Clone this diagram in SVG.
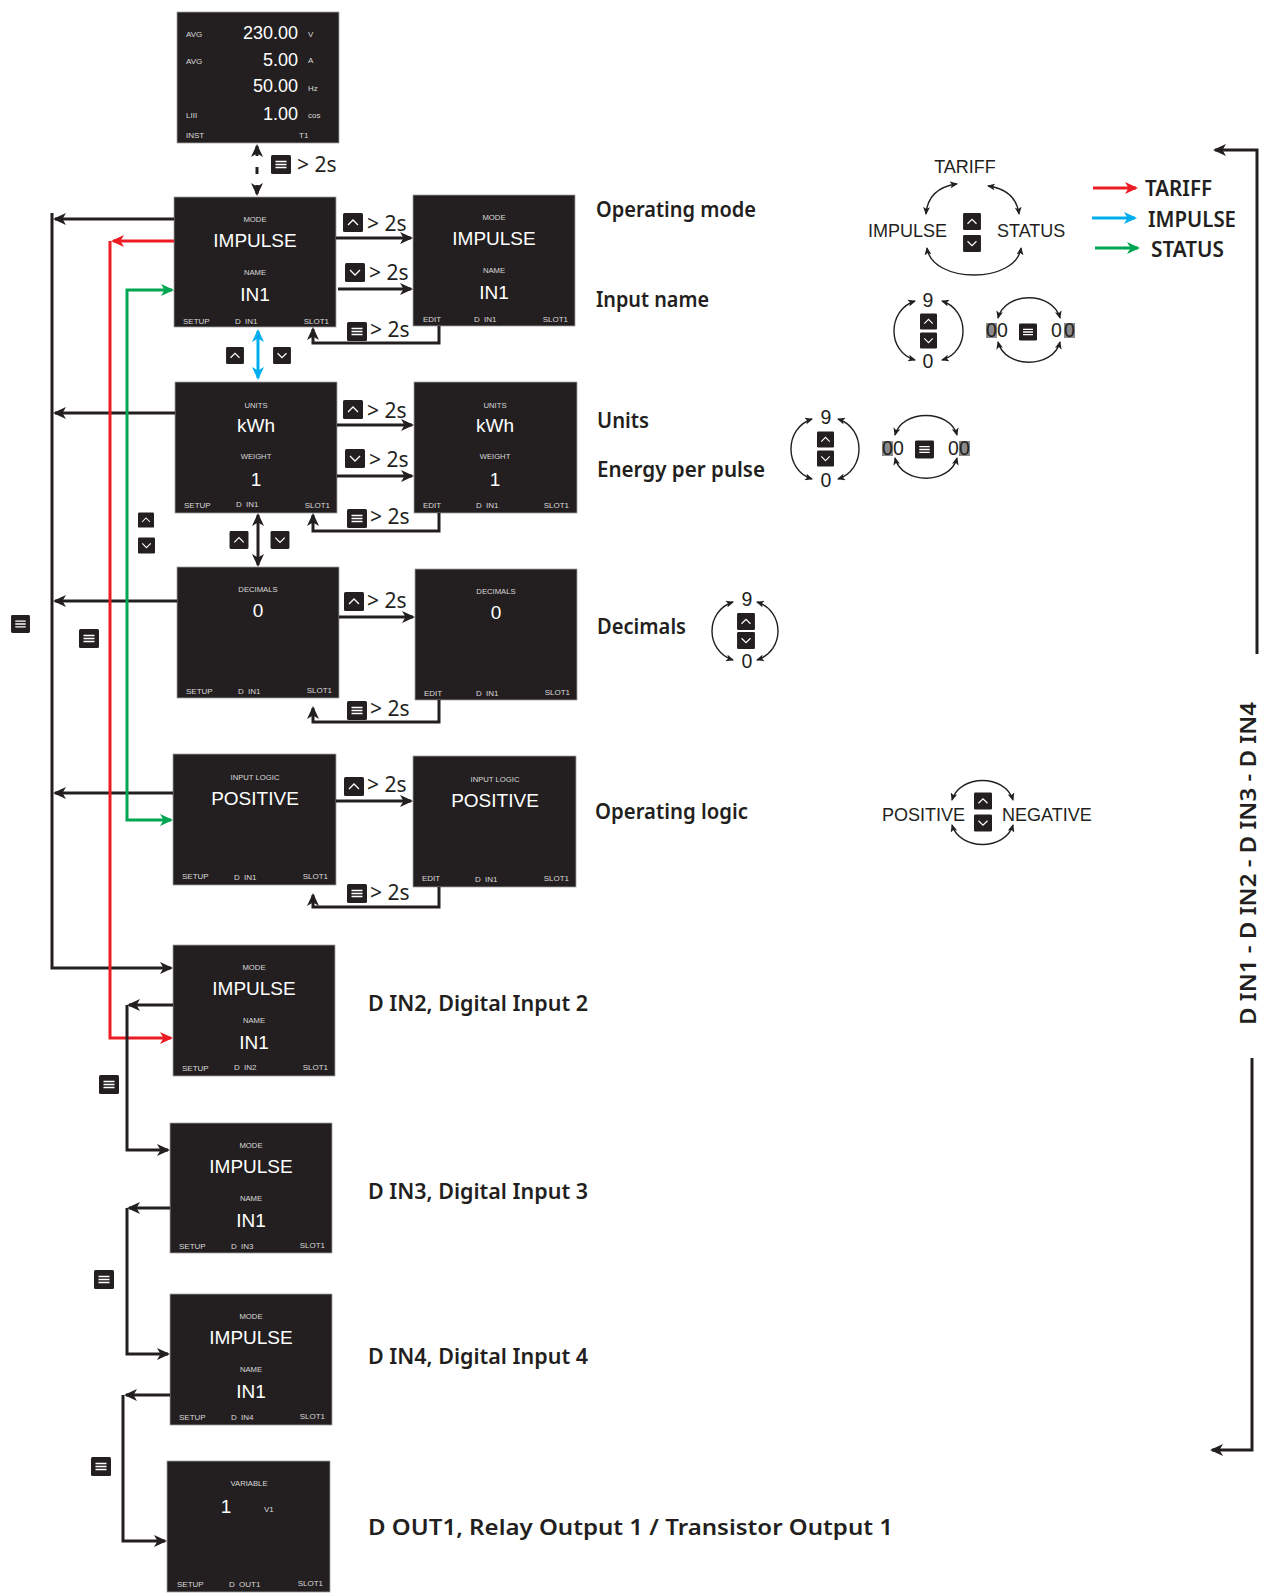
<svg xmlns="http://www.w3.org/2000/svg" xmlns:xlink="http://www.w3.org/1999/xlink" width="1264" height="1596" viewBox="0 0 1264 1596">
<style>
.box{fill:#231f20;stroke:#a0a0a0;stroke-width:0.8}
.lb{font-family:"Liberation Sans",Arial,sans-serif;font-size:7.7px;fill:#dadada;text-anchor:middle}
.val{font-family:"Liberation Sans",Arial,sans-serif;font-size:19px;fill:#fff;text-anchor:middle}
.num{font-family:"Liberation Sans",Arial,sans-serif;font-size:18px;fill:#fff;text-anchor:end}
.bt{font-family:"Liberation Sans",Arial,sans-serif;font-size:8px;fill:#dadada}
.bte{font-family:"Liberation Sans",Arial,sans-serif;font-size:8px;fill:#dadada;text-anchor:end}
.ln{fill:none;stroke:#231f20;stroke-width:3}
.lnb{fill:none;stroke:#231f20;stroke-width:3;marker-end:url(#ah)}
.red{fill:none;stroke:#ed1c24;stroke-width:3}
.grn{fill:none;stroke:#00a651;stroke-width:3}
.blu{fill:none;stroke:#00aeef;stroke-width:3}
.cyc{fill:none;stroke:#231f20;stroke-width:1.4;marker-start:url(#as);marker-end:url(#as)}
.t2s{font-family:"Noto Sans","DejaVu Sans",sans-serif;font-size:21px;fill:#231f20}
.lab{font-family:"Noto Sans","DejaVu Sans",sans-serif;font-size:21px;font-weight:600;fill:#231f20}
.cw{font-family:"Liberation Sans",Arial,sans-serif;font-size:18px;fill:#231f20}
.dg{font-family:"Liberation Sans",Arial,sans-serif;font-size:19.5px;fill:#231f20}
.dgc{font-family:"Liberation Sans",Arial,sans-serif;font-size:19.5px;fill:#231f20;text-anchor:middle}
.hl{fill:#8a8a8a}
</style>
<defs>
<marker id="ah" viewBox="0 0 13 12" refX="11" refY="6" markerWidth="13" markerHeight="12" markerUnits="userSpaceOnUse" orient="auto-start-reverse"><path d="M0,0 L13,6 L0,12 L3.5,6 Z" fill="#231f20"/></marker>
<marker id="ahr" viewBox="0 0 13 12" refX="11" refY="6" markerWidth="13" markerHeight="12" markerUnits="userSpaceOnUse" orient="auto-start-reverse"><path d="M0,0 L13,6 L0,12 L3.5,6 Z" fill="#ed1c24"/></marker>
<marker id="ahg" viewBox="0 0 13 12" refX="11" refY="6" markerWidth="13" markerHeight="12" markerUnits="userSpaceOnUse" orient="auto-start-reverse"><path d="M0,0 L13,6 L0,12 L3.5,6 Z" fill="#00a651"/></marker>
<marker id="ahb" viewBox="0 0 13 12" refX="11" refY="6" markerWidth="13" markerHeight="12" markerUnits="userSpaceOnUse" orient="auto-start-reverse"><path d="M0,0 L13,6 L0,12 L3.5,6 Z" fill="#00aeef"/></marker>
<marker id="as" viewBox="0 0 8 7" refX="7" refY="3.5" markerWidth="8" markerHeight="7" markerUnits="userSpaceOnUse" orient="auto-start-reverse"><path d="M0,0 L8,3.5 L0,7 L2,3.5 Z" fill="#231f20"/></marker>
<symbol id="i-menu" viewBox="0 0 20 19"><rect width="20" height="19" rx="1.5" fill="#231f20"/><path d="M4.5,6.5H15.5M4.5,9.5H15.5M4.5,12.5H15.5" stroke="#fff" stroke-width="1.4"/></symbol>
<symbol id="i-up" viewBox="0 0 20 19"><rect width="20" height="19" rx="1.5" fill="#231f20"/><path d="M5,12 L10,7 L15,12" fill="none" stroke="#fff" stroke-width="1.3"/></symbol>
<symbol id="i-dn" viewBox="0 0 20 19"><rect width="20" height="19" rx="1.5" fill="#231f20"/><path d="M5,7 L10,12 L15,7" fill="none" stroke="#fff" stroke-width="1.3"/></symbol>
</defs>
<rect width="1264" height="1596" fill="#fff"/>

<!-- top measuring screen -->
<g id="n-inst">
<rect class="box" x="177" y="12" width="162" height="131"/>
<text class="bt" x="186" y="37" font-size="7.5">AVG</text>
<text class="num" x="298" y="39">230.00</text>
<text class="bt" x="308" y="37">V</text>
<text class="bt" x="186" y="64" font-size="7.5">AVG</text>
<text class="num" x="298" y="66">5.00</text>
<text class="bt" x="308" y="63">A</text>
<text class="num" x="298" y="92">50.00</text>
<text class="bt" x="308" y="91">Hz</text>
<text class="bt" x="186" y="118">LIII</text>
<text class="num" x="298" y="120">1.00</text>
<text class="bt" x="308" y="118">cos</text>
<text class="bt" x="186" y="138">INST</text>
<text class="bt" x="299" y="138">T1</text>
</g>

<!-- row 1 -->
<g id="n-mode-setup">
<rect class="box" x="174" y="197" width="162" height="130"/>
<text class="lb" x="255" y="222">MODE</text>
<text class="val" x="255" y="247">IMPULSE</text>
<text class="lb" x="255" y="275">NAME</text>
<text class="val" x="255" y="301">IN1</text>
<text class="bt" x="183" y="324">SETUP</text>
<text class="bt" x="235" y="324" word-spacing="2">D IN1</text>
<text class="bte" x="329" y="324">SLOT1</text>
</g>
<g id="n-mode-edit">
<rect class="box" x="413" y="195" width="162" height="131"/>
<text class="lb" x="494" y="220">MODE</text>
<text class="val" x="494" y="245">IMPULSE</text>
<text class="lb" x="494" y="273">NAME</text>
<text class="val" x="494" y="299">IN1</text>
<text class="bt" x="423" y="322">EDIT</text>
<text class="bt" x="474" y="322" word-spacing="2">D IN1</text>
<text class="bte" x="568" y="322">SLOT1</text>
</g>

<!-- row 2 -->
<g id="n-units-setup">
<rect class="box" x="175" y="382" width="162" height="131"/>
<text class="lb" x="256" y="408">UNITS</text>
<text class="val" x="256" y="432">kWh</text>
<text class="lb" x="256" y="459">WEIGHT</text>
<text class="val" x="256" y="486">1</text>
<text class="bt" x="184" y="508">SETUP</text>
<text class="bt" x="236" y="507" word-spacing="2">D IN1</text>
<text class="bte" x="330" y="508">SLOT1</text>
</g>
<g id="n-units-edit">
<rect class="box" x="414" y="382" width="163" height="131"/>
<text class="lb" x="495" y="408">UNITS</text>
<text class="val" x="495" y="432">kWh</text>
<text class="lb" x="495" y="459">WEIGHT</text>
<text class="val" x="495" y="486">1</text>
<text class="bt" x="423" y="508">EDIT</text>
<text class="bt" x="476" y="508" word-spacing="2">D IN1</text>
<text class="bte" x="569" y="508">SLOT1</text>
</g>

<!-- row 3 -->
<g id="n-dec-setup">
<rect class="box" x="177" y="567" width="162" height="131"/>
<text class="lb" x="258" y="592">DECIMALS</text>
<text class="val" x="258" y="617">0</text>
<text class="bt" x="186" y="694">SETUP</text>
<text class="bt" x="238" y="694" word-spacing="2">D IN1</text>
<text class="bte" x="332" y="693">SLOT1</text>
</g>
<g id="n-dec-edit">
<rect class="box" x="415" y="569" width="162" height="131"/>
<text class="lb" x="496" y="594">DECIMALS</text>
<text class="val" x="496" y="619">0</text>
<text class="bt" x="424" y="696">EDIT</text>
<text class="bt" x="476" y="696" word-spacing="2">D IN1</text>
<text class="bte" x="570" y="695">SLOT1</text>
</g>

<!-- row 4 -->
<g id="n-logic-setup">
<rect class="box" x="173" y="754" width="163" height="131"/>
<text class="lb" x="255" y="780">INPUT LOGIC</text>
<text class="val" x="255" y="805">POSITIVE</text>
<text class="bt" x="182" y="879">SETUP</text>
<text class="bt" x="234" y="880" word-spacing="2">D IN1</text>
<text class="bte" x="328" y="879">SLOT1</text>
</g>
<g id="n-logic-edit">
<rect class="box" x="413" y="756" width="163" height="131"/>
<text class="lb" x="495" y="782">INPUT LOGIC</text>
<text class="val" x="495" y="807">POSITIVE</text>
<text class="bt" x="422" y="881">EDIT</text>
<text class="bt" x="475" y="882" word-spacing="2">D IN1</text>
<text class="bte" x="569" y="881">SLOT1</text>
</g>

<!-- D IN2..4, D OUT1 -->
<g id="n-din2">
<rect class="box" x="173" y="945" width="162" height="131"/>
<text class="lb" x="254" y="970">MODE</text>
<text class="val" x="254" y="995">IMPULSE</text>
<text class="lb" x="254" y="1023">NAME</text>
<text class="val" x="254" y="1049">IN1</text>
<text class="bt" x="182" y="1071">SETUP</text>
<text class="bt" x="234" y="1070" word-spacing="2">D IN2</text>
<text class="bte" x="328" y="1070">SLOT1</text>
</g>
<g id="n-din3">
<rect class="box" x="170" y="1123" width="162" height="130"/>
<text class="lb" x="251" y="1148">MODE</text>
<text class="val" x="251" y="1173">IMPULSE</text>
<text class="lb" x="251" y="1201">NAME</text>
<text class="val" x="251" y="1227">IN1</text>
<text class="bt" x="179" y="1249">SETUP</text>
<text class="bt" x="231" y="1249" word-spacing="2">D IN3</text>
<text class="bte" x="325" y="1248">SLOT1</text>
</g>
<g id="n-din4">
<rect class="box" x="170" y="1294" width="162" height="131"/>
<text class="lb" x="251" y="1319">MODE</text>
<text class="val" x="251" y="1344">IMPULSE</text>
<text class="lb" x="251" y="1372">NAME</text>
<text class="val" x="251" y="1398">IN1</text>
<text class="bt" x="179" y="1420">SETUP</text>
<text class="bt" x="231" y="1420" word-spacing="2">D IN4</text>
<text class="bte" x="325" y="1419">SLOT1</text>
</g>
<g id="n-dout1">
<rect class="box" x="167" y="1461" width="163" height="131"/>
<text class="lb" x="249" y="1486">VARIABLE</text>
<text class="val" x="226" y="1513">1</text>
<text class="bt" x="264" y="1512" font-size="9">V1</text>
<text class="bt" x="177" y="1587">SETUP</text>
<text class="bt" x="229" y="1587" word-spacing="2">D OUT1</text>
<text class="bte" x="323" y="1586">SLOT1</text>
</g>

<!-- connectors -->
<g id="connectors">
<path class="ln" d="M257,146 V194" stroke-dasharray="10 11 7 11 10" marker-start="url(#ah)" marker-end="url(#ah)"/>
<path class="lnb" d="M336,238 H411"/>
<path class="lnb" d="M338,289 H411"/>
<path class="lnb" d="M439,326 V343 H313 V329"/>
<path class="lnb" d="M337,425 H412"/>
<path class="lnb" d="M337,476 H412"/>
<path class="lnb" d="M439,513 V531 H313 V515"/>
<path class="ln" d="M258,515 V565" marker-start="url(#ah)" marker-end="url(#ah)"/>
<path class="lnb" d="M339,617 H413"/>
<path class="lnb" d="M439,700 V722 H313 V708"/>
<path class="lnb" d="M336,801 H411"/>
<path class="lnb" d="M439,887 V907 H313 V895"/>
<path class="blu" d="M258,331 V378" marker-start="url(#ahb)" marker-end="url(#ahb)"/>
<!-- left main bus -->
<path class="lnb" d="M174,219 H55"/>
<path class="lnb" d="M175,413 H55"/>
<path class="lnb" d="M177,601 H55"/>
<path class="lnb" d="M173,793 H55"/>
<path class="lnb" d="M52,213 V968 H171"/>
<!-- red & green -->
<path class="red" d="M174,241 H113" marker-end="url(#ahr)"/>
<path class="red" d="M110,241 V1038 H171" marker-end="url(#ahr)"/>
<path class="grn" d="M172,290 H127 V820 H171" marker-start="url(#ahg)" marker-end="url(#ahg)"/>
<!-- lower chain -->
<path class="lnb" d="M173,1005 H129"/>
<path class="lnb" d="M127,1005 V1150 H168"/>
<path class="lnb" d="M170,1208 H129"/>
<path class="lnb" d="M127,1208 V1354 H168"/>
<path class="lnb" d="M170,1395 H126"/>
<path class="lnb" d="M123,1395 V1541 H165"/>
<!-- right bracket -->
<path class="lnb" d="M1257,654 V150 H1215" stroke-width="2.6"/>
<path class="lnb" d="M1252,1058 V1450 H1212" stroke-width="2.6"/>
<!-- legend arrows -->
<path class="red" d="M1093,188 H1136" marker-end="url(#ahr)"/>
<path class="blu" d="M1092,218 H1135" marker-end="url(#ahb)"/>
<path class="grn" d="M1095,248 H1138" marker-end="url(#ahg)"/>
<!-- cycle arcs -->
<path class="cyc" d="M926,214 Q928,188 957,184"/>
<path class="cyc" d="M988,186 Q1016,190 1019,214"/>
<path class="cyc" d="M927,248 C932,284 1016,284 1021,248"/>
<path class="cyc" d="M915,301 C887,310 887,352 915,360"/>
<path class="cyc" d="M942,301 C970,310 970,352 942,360"/>
<path class="cyc" d="M998,318 C1005,291 1053,291 1060,318"/>
<path class="cyc" d="M998,342 C1005,369 1053,369 1060,342"/>
<path class="cyc" d="M812,419 C784,428 784,470 812,479"/>
<path class="cyc" d="M838,419 C866,428 866,470 838,479"/>
<path class="cyc" d="M895,435 C902,409 950,409 957,435"/>
<path class="cyc" d="M895,458 C902,485 950,485 957,458"/>
<path class="cyc" d="M733,602 C705,611 705,651 733,660"/>
<path class="cyc" d="M757,602 C785,611 785,651 757,660"/>
<path class="cyc" d="M952,800 C960,774 1005,774 1013,800"/>
<path class="cyc" d="M952,825 C960,851 1005,851 1013,825"/>
</g>

<!-- button icons -->
<g id="icons">
<use href="#i-menu" x="271" y="155" width="20" height="19"/>
<use href="#i-up" x="343" y="213" width="20" height="19"/>
<use href="#i-dn" x="345" y="263" width="20" height="19"/>
<use href="#i-menu" x="347" y="322" width="20" height="19"/>
<use href="#i-up" x="226" y="347" width="18" height="17"/>
<use href="#i-dn" x="273" y="347" width="18" height="17"/>
<use href="#i-up" x="343" y="400" width="20" height="19"/>
<use href="#i-dn" x="345" y="449" width="20" height="19"/>
<use href="#i-menu" x="347" y="509" width="20" height="19"/>
<use href="#i-up" x="229" y="531" width="20" height="18"/>
<use href="#i-dn" x="270" y="531" width="20" height="18"/>
<use href="#i-up" x="344" y="592" width="20" height="19"/>
<use href="#i-menu" x="347" y="701" width="20" height="19"/>
<use href="#i-up" x="344" y="777" width="20" height="19"/>
<use href="#i-menu" x="347" y="884" width="20" height="19"/>
<use href="#i-up" x="138" y="512" width="16" height="16"/>
<use href="#i-dn" x="138" y="537" width="17" height="17"/>
<use href="#i-menu" x="11" y="615" width="19" height="18"/>
<use href="#i-menu" x="79" y="629" width="20" height="19"/>
<use href="#i-menu" x="99" y="1075" width="20" height="19"/>
<use href="#i-menu" x="94" y="1270" width="20" height="19"/>
<use href="#i-menu" x="91" y="1457" width="20" height="19"/>
<use href="#i-up" x="963" y="213" width="18" height="17"/>
<use href="#i-dn" x="963" y="235" width="18" height="17"/>
<use href="#i-up" x="920" y="313" width="17" height="17"/>
<use href="#i-dn" x="920" y="332" width="17" height="17"/>
<use href="#i-menu" x="1019" y="323" width="18" height="18"/>
<use href="#i-up" x="817" y="431" width="17" height="17"/>
<use href="#i-dn" x="817" y="450" width="17" height="17"/>
<use href="#i-menu" x="915" y="440" width="19" height="19"/>
<use href="#i-up" x="737" y="613" width="18" height="17"/>
<use href="#i-dn" x="737" y="632" width="18" height="17"/>
<use href="#i-up" x="974" y="792" width="18" height="18"/>
<use href="#i-dn" x="974" y="814" width="18" height="18"/>
</g>

<!-- "> 2s" texts -->
<g id="hold-labels">
<text class="t2s" x="297" y="172">&gt; 2s</text>
<text class="t2s" x="367" y="231">&gt; 2s</text>
<text class="t2s" x="369" y="280">&gt; 2s</text>
<text class="t2s" x="370" y="337">&gt; 2s</text>
<text class="t2s" x="367" y="418">&gt; 2s</text>
<text class="t2s" x="369" y="467">&gt; 2s</text>
<text class="t2s" x="370" y="524">&gt; 2s</text>
<text class="t2s" x="367" y="608">&gt; 2s</text>
<text class="t2s" x="370" y="716">&gt; 2s</text>
<text class="t2s" x="367" y="792">&gt; 2s</text>
<text class="t2s" x="370" y="900">&gt; 2s</text>
</g>

<!-- descriptive labels -->
<g id="labels">
<text class="lab" x="596" y="217" textLength="160" lengthAdjust="spacingAndGlyphs">Operating mode</text>
<text class="lab" x="596" y="307" textLength="113" lengthAdjust="spacingAndGlyphs">Input name</text>
<text class="lab" x="597" y="428" textLength="52" lengthAdjust="spacingAndGlyphs">Units</text>
<text class="lab" x="597" y="477" textLength="168" lengthAdjust="spacingAndGlyphs">Energy per pulse</text>
<text class="lab" x="597" y="634" textLength="89" lengthAdjust="spacingAndGlyphs">Decimals</text>
<text class="lab" x="595" y="819" textLength="153" lengthAdjust="spacingAndGlyphs">Operating logic</text>
<text class="lab" x="368" y="1011" textLength="220" lengthAdjust="spacingAndGlyphs">D IN2, Digital Input 2</text>
<text class="lab" x="368" y="1199" textLength="220" lengthAdjust="spacingAndGlyphs">D IN3, Digital Input 3</text>
<text class="lab" x="368" y="1364" textLength="220" lengthAdjust="spacingAndGlyphs">D IN4, Digital Input 4</text>
<text class="lab" x="368" y="1535" textLength="525" lengthAdjust="spacingAndGlyphs">D OUT1, Relay Output 1 / Transistor Output 1</text>
<text class="lab" font-size="23" transform="translate(1256,1025) rotate(-90)" textLength="323" lengthAdjust="spacingAndGlyphs">D IN1 - D IN2 - D IN3 - D IN4</text>
<text class="lab" font-size="22" x="1145" y="196" textLength="67" lengthAdjust="spacingAndGlyphs">TARIFF</text>
<text class="lab" font-size="22" x="1148" y="227" textLength="88" lengthAdjust="spacingAndGlyphs">IMPULSE</text>
<text class="lab" font-size="22" x="1151" y="257" textLength="73" lengthAdjust="spacingAndGlyphs">STATUS</text>
</g>

<!-- cycle diagrams text -->
<g id="cycles">
<text class="cw" x="965" y="173" text-anchor="middle">TARIFF</text>
<text class="cw" x="868" y="237">IMPULSE</text>
<text class="cw" x="997" y="237">STATUS</text>
<text class="dgc" x="928" y="307">9</text>
<text class="dgc" x="928" y="368">0</text>
<rect class="hl" x="986" y="323" width="11" height="15"/>
<text class="dg" x="986" y="337">0</text>
<text class="dg" x="997" y="337">0</text>
<text class="dg" x="1051" y="337">0</text>
<rect class="hl" x="1064" y="323" width="11" height="15"/>
<text class="dg" x="1064" y="337">0</text>
<text class="dgc" x="826" y="424">9</text>
<text class="dgc" x="826" y="487">0</text>
<rect class="hl" x="882" y="441" width="11" height="15"/>
<text class="dg" x="882" y="455">0</text>
<text class="dg" x="893" y="455">0</text>
<text class="dg" x="948" y="455">0</text>
<rect class="hl" x="959" y="441" width="11" height="15"/>
<text class="dg" x="959" y="455">0</text>
<text class="dgc" x="747" y="606">9</text>
<text class="dgc" x="747" y="668">0</text>
<text class="cw" x="882" y="821">POSITIVE</text>
<text class="cw" x="1002" y="821">NEGATIVE</text>
</g>
</svg>
